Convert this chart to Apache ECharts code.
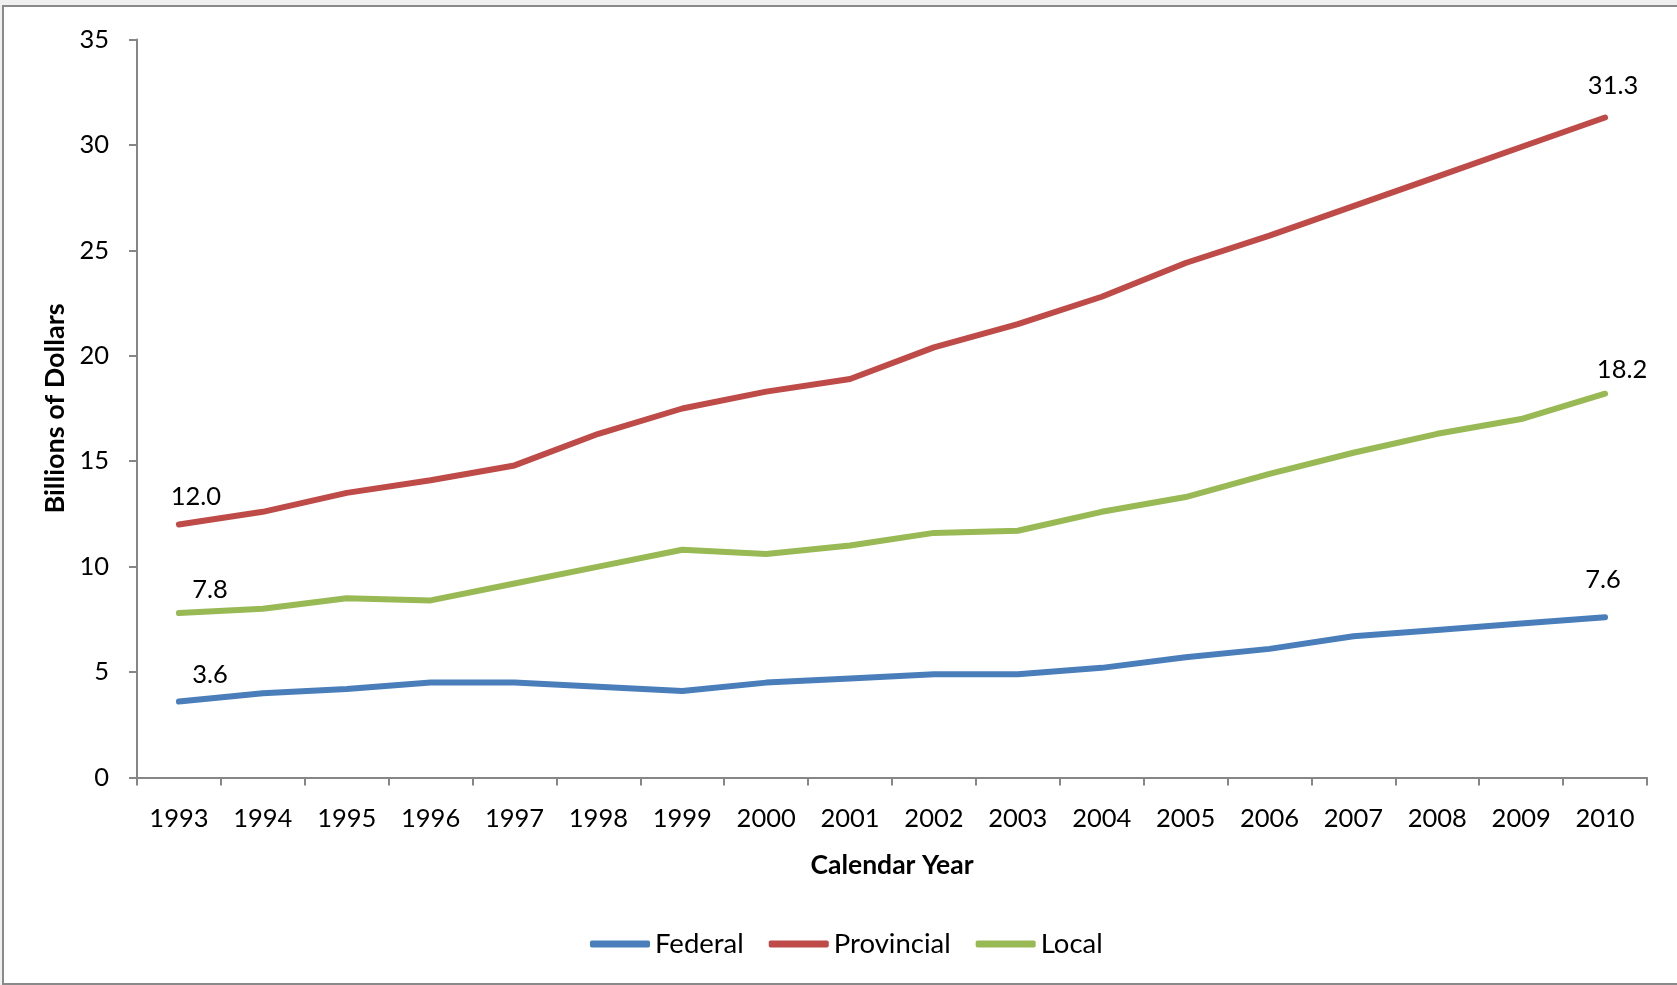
<!DOCTYPE html>
<html>
<head>
<meta charset="utf-8">
<title>Billions of Dollars by Calendar Year</title>
<script src="https://cdn.jsdelivr.net/npm/echarts@6/dist/echarts.min.js"></script>
<style>
  html, body { margin: 0; padding: 0; width: 1677px; height: 985px; overflow: hidden; background: #f0f0f0; }
  #frame { position: absolute; left: 2px; top: 5px; width: 1700px; height: 976px; border: 2px solid #8a8a8a; background: #ffffff; }
  #chart { position: absolute; left: 0; top: 0; width: 1677px; height: 985px; }
</style>
</head>
<body>
<div id="frame"></div>
<div id="chart"></div>
<script>
// Calendar years on the category axis
const years = ['1993','1994','1995','1996','1997','1998','1999','2000','2001',
               '2002','2003','2004','2005','2006','2007','2008','2009','2010'];

// Billions of dollars per level of government
const federal    = [3.6, 4.0, 4.2, 4.5, 4.5, 4.3, 4.1, 4.5, 4.7, 4.9, 4.9, 5.2, 5.7, 6.1, 6.7, 7.0, 7.3, 7.6];
const provincial = [12.0, 12.6, 13.5, 14.1, 14.8, 16.3, 17.5, 18.3, 18.9, 20.4, 21.5, 22.8, 24.4, 25.7, 27.1, 28.5, 29.9, 31.3];
const local      = [7.8, 8.0, 8.5, 8.4, 9.2, 10.0, 10.8, 10.6, 11.0, 11.6, 11.7, 12.6, 13.3, 14.4, 15.4, 16.3, 17.0, 18.2];

// Y axis ticks
const yMin = 0, yMax = 35, yStep = 5;

const FONT = 'Lato, "Open Sans", sans-serif';
const AXIS_GREY = '#868686';

// Value labels on the first and last point of each line, nudged like hand-placed labels
function withEndLabels(values, firstOffset, lastOffset) {
  return values.map((v, i) => {
    if (i === 0 || i === values.length - 1) {
      return {
        value: v,
        label: {
          show: true,
          position: 'inside',
          offset: i === 0 ? firstOffset : lastOffset,
          formatter: (p) => Number(p.value).toFixed(1),
          color: '#000',
          fontFamily: FONT,
          fontSize: 25.5
        }
      };
    }
    return v;
  });
}

function lineSeries(name, color, data) {
  return {
    name: name,
    type: 'line',
    data: data,
    symbol: 'circle',
    symbolSize: 1,
    showSymbol: true,
    lineStyle: { color: color, width: 6, cap: 'round', join: 'round' },
    itemStyle: { color: color },
    label: { show: false },
    emphasis: { disabled: true },
    animation: false
  };
}

const chart = echarts.init(document.getElementById('chart'), null, { renderer: 'canvas' });

chart.setOption({
  backgroundColor: 'transparent',
  animation: false,
  grid: { left: 137, right: 30, top: 39.5, bottom: 207.5, containLabel: false },
  legend: {
    left: 585,
    top: 925,
    itemWidth: 60,
    itemHeight: 7,
    itemGap: 25,
    icon: 'roundRect',
    textStyle: { fontFamily: FONT, fontSize: 27.5, color: '#000' },
    data: ['Federal', 'Provincial', 'Local']
  },
  xAxis: {
    type: 'category',
    data: years,
    boundaryGap: true,
    name: 'Calendar Year',
    nameLocation: 'middle',
    nameGap: 74,
    nameTextStyle: { fontFamily: FONT, fontSize: 26.5, fontWeight: 'bold', color: '#000' },
    axisLine: { lineStyle: { color: AXIS_GREY, width: 2 } },
    axisTick: { show: true, alignWithLabel: false, length: 8, lineStyle: { color: AXIS_GREY, width: 2 } },
    axisLabel: { fontFamily: FONT, fontSize: 25.5, color: '#000', margin: 28, interval: 0 },
    splitLine: { show: false }
  },
  yAxis: {
    type: 'value',
    min: yMin,
    max: yMax,
    interval: yStep,
    name: 'Billions of Dollars',
    nameLocation: 'middle',
    nameGap: 62,
    nameRotate: 90,
    nameTextStyle: { fontFamily: FONT, fontSize: 27, fontWeight: 'bold', color: '#000' },
    axisLine: { show: true, lineStyle: { color: AXIS_GREY, width: 2 } },
    axisTick: { show: true, length: 8, lineStyle: { color: AXIS_GREY, width: 2 } },
    axisLabel: { fontFamily: FONT, fontSize: 25.5, color: '#000', margin: 28 },
    splitLine: { show: false }
  },
  series: [
    lineSeries('Federal',    '#4a7ebb', withEndLabels(federal,    [31, -27], [-2, -37])),
    lineSeries('Provincial', '#be4b48', withEndLabels(provincial, [17, -28], [8, -32])),
    lineSeries('Local',      '#98b954', withEndLabels(local,      [31, -23], [17, -24]))
  ]
});
</script>
</body>
</html>
